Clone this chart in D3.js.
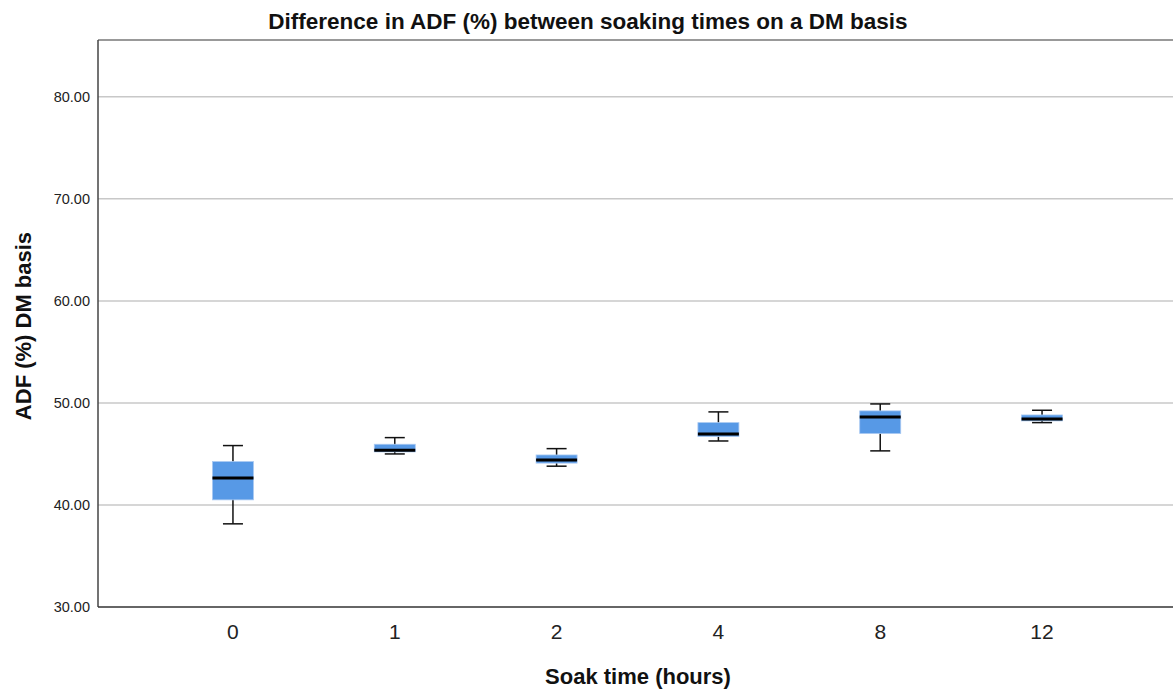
<!DOCTYPE html>
<html>
<head>
<meta charset="utf-8">
<script src="https://cdn.jsdelivr.net/npm/d3@7/dist/d3.min.js"></script>
<style>
body{margin:0;background:#fff;}
svg{display:block;font-family:"Liberation Sans",Arial,sans-serif;}
</style>
</head>
<body>
<svg id="c" width="1173" height="689"></svg>
<script>
const categories = ["0","1","2","4","8","12"];
const whiskerLow = [38.15, 45.0, 43.8, 46.27, 45.3, 48.07];
const q1Values   = [40.5, 45.2, 44.1, 46.7, 47.0, 48.24];
const medians    = [42.65, 45.35, 44.41, 46.96, 48.63, 48.43];
const q3Values   = [44.25, 45.95, 44.9, 48.07, 49.22, 48.82];
const whiskerHigh= [45.82, 46.6, 45.52, 49.12, 49.9, 49.28];
const yTicks = [30, 40, 50, 60, 70, 80];

(function(){
const svg = d3.select("#c");
const mLeft = 98, mTop = 40, mBottom = 607, mRight = 1173;

const y = d3.scaleLinear().domain([30, 80]).range([mBottom, 96.8]);
const x = d3.scalePoint().domain(categories).range([mLeft, 1177]).padding(0.834);

svg.append("g").selectAll("line").data(yTicks.filter(d => d > 30)).join("line")
  .attr("x1", mLeft).attr("x2", mRight)
  .attr("y1", d => y(d)).attr("y2", d => y(d))
  .attr("stroke", "#c8c8c8").attr("stroke-width", 1.5);

svg.append("g").selectAll("text").data(yTicks).join("text")
  .attr("x", 90).attr("y", d => y(d) + 5)
  .attr("text-anchor", "end").attr("font-size", 14.5).attr("fill", "#222")
  .text(d => d.toFixed(2));

svg.append("line").attr("x1", mLeft).attr("x2", mRight).attr("y1", mTop).attr("y2", mTop)
  .attr("stroke", "#777").attr("stroke-width", 1.5);
svg.append("line").attr("x1", mLeft).attr("x2", mLeft).attr("y1", mTop).attr("y2", mBottom)
  .attr("stroke", "#444").attr("stroke-width", 1.5);
svg.append("line").attr("x1", mLeft).attr("x2", mRight).attr("y1", mBottom).attr("y2", mBottom)
  .attr("stroke", "#333").attr("stroke-width", 1.5);

svg.append("g").selectAll("text").data(categories).join("text")
  .attr("x", d => x(d)).attr("y", 639)
  .attr("text-anchor", "middle").attr("font-size", 21).attr("fill", "#222")
  .text(d => d);

const data = categories.map((c, i) => ({c, lo: whiskerLow[i], q1: q1Values[i], med: medians[i], q3: q3Values[i], hi: whiskerHigh[i]}));
const boxW = 41, capW = 20;
const g = svg.append("g").selectAll("g").data(data).join("g");
g.append("line").attr("x1", d => x(d.c)).attr("x2", d => x(d.c))
  .attr("y1", d => y(d.hi)).attr("y2", d => y(d.lo))
  .attr("stroke", "#111").attr("stroke-width", 1.5);
g.append("line").attr("x1", d => x(d.c) - capW/2).attr("x2", d => x(d.c) + capW/2)
  .attr("y1", d => y(d.hi)).attr("y2", d => y(d.hi)).attr("stroke", "#111").attr("stroke-width", 1.5);
g.append("line").attr("x1", d => x(d.c) - capW/2).attr("x2", d => x(d.c) + capW/2)
  .attr("y1", d => y(d.lo)).attr("y2", d => y(d.lo)).attr("stroke", "#111").attr("stroke-width", 1.5);
g.append("rect").attr("x", d => x(d.c) - boxW/2).attr("width", boxW)
  .attr("y", d => y(d.q3)).attr("height", d => y(d.q1) - y(d.q3))
  .attr("fill", "#5799e6").attr("stroke", "#a9c9f2").attr("stroke-width", 0.8);
g.append("line").attr("x1", d => x(d.c) - boxW/2).attr("x2", d => x(d.c) + boxW/2)
  .attr("y1", d => y(d.med)).attr("y2", d => y(d.med))
  .attr("stroke", "#000").attr("stroke-width", 3);

svg.append("text").attr("x", 588).attr("y", 29).attr("text-anchor", "middle")
  .attr("font-size", 22.5).attr("font-weight", "bold").attr("fill", "#111")
  .text("Difference in ADF (%) between soaking times on a DM basis");
svg.append("text").attr("transform", "translate(31,326) rotate(-90)").attr("text-anchor", "middle")
  .attr("font-size", 22).attr("font-weight", "bold").attr("fill", "#111")
  .text("ADF (%) DM basis");
svg.append("text").attr("x", 638).attr("y", 684).attr("text-anchor", "middle")
  .attr("font-size", 22).attr("font-weight", "bold").attr("fill", "#111")
  .text("Soak time (hours)");
})();
</script>
</body>
</html>
